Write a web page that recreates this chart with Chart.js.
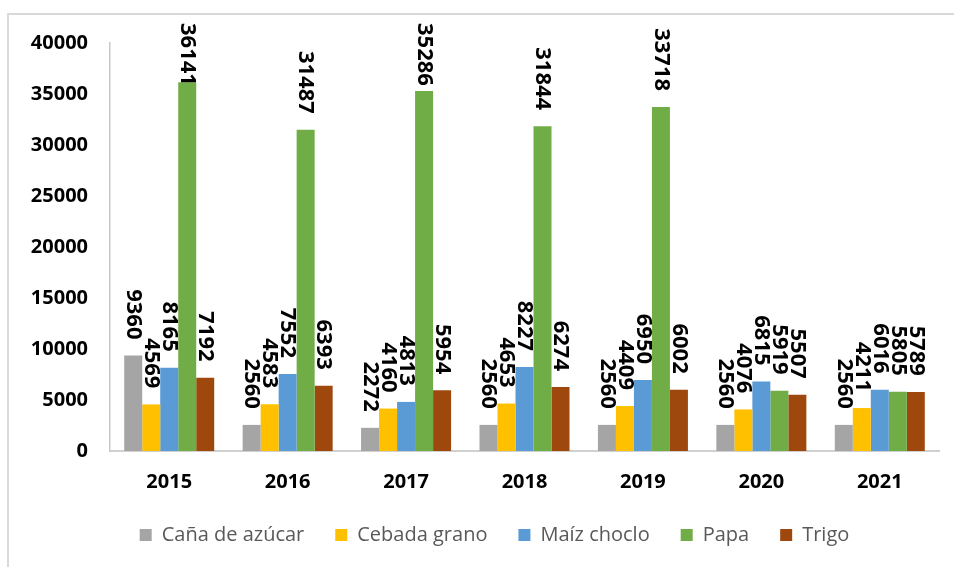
<!DOCTYPE html>
<html>
<head>
<meta charset="utf-8">
<script src="https://cdn.jsdelivr.net/npm/chart.js@4.4.1/dist/chart.umd.min.js"></script>
<style>
  body { margin: 0; background: #fff; }
  #wrap { position: relative; width: 954px; height: 567px; }
  #frame { position: absolute; left: 7px; top: 13px; right: -10px; bottom: -10px;
           border-left: 2px solid #d9d9d9; border-top: 2px solid #d9d9d9; }
  canvas { position: absolute; left: 0; top: 0; }
</style>
</head>
<body>
<div id="wrap">
  <div id="frame"></div>
  <canvas id="myChart" width="954" height="567"></canvas>
</div>
<script>
  // chart data
  var years = ['2015', '2016', '2017', '2018', '2019', '2020', '2021'];
  var cana = [9360, 2560, 2272, 2560, 2560, 2560, 2560];
  var cebada = [4569, 4583, 4160, 4653, 4409, 4076, 4211];
  var maiz = [8165, 7552, 4813, 8227, 6950, 6815, 6016];
  var papa = [36141, 31487, 35286, 31844, 33718, 5919, 5805];
  var trigo = [7192, 6393, 5954, 6274, 6002, 5507, 5789];

  // draws the rotated value labels above each bar
  var valueLabels = {
    id: 'valueLabels',
    afterLayout: function (chart) {
      // nudge legend so it centres under the plot like the original
      if (chart.legend) chart.legend.left = 50;
    },
    afterDatasetsDraw: function (chart) {
      var ctx = chart.ctx;
      ctx.save();
      ctx.font = 'bold 22px "Open Sans"';
      ctx.fillStyle = '#000';
      ctx.textAlign = 'right';
      ctx.textBaseline = 'middle';
      chart.data.datasets.forEach(function (ds, i) {
        var meta = chart.getDatasetMeta(i);
        meta.data.forEach(function (bar, j) {
          var txt = String(ds.data[j]);
          var w = ctx.measureText(txt).width;
          var end = Math.max(bar.y - 16, chart.chartArea.top - 20 + w);
          ctx.save();
          ctx.translate(bar.x, end);
          ctx.rotate(Math.PI / 2);
          ctx.fillText(txt, 0, 0);
          ctx.restore();
        });
      });
      ctx.restore();
    }
  };

  var ctx = document.getElementById('myChart').getContext('2d');
  var myChart = new Chart(ctx, {
    type: 'bar',
    data: {
      labels: years,
      datasets: [
        { label: 'Caña de azúcar', data: cana, backgroundColor: '#a5a5a5' },
        { label: 'Cebada grano', data: cebada, backgroundColor: '#ffc000' },
        { label: 'Maíz choclo', data: maiz, backgroundColor: '#5b9bd5' },
        { label: 'Papa', data: papa, backgroundColor: '#70ad47' },
        { label: 'Trigo', data: trigo, backgroundColor: '#9e480e' }
      ]
    },
    options: {
      responsive: false,
      animation: false,
      datasets: { bar: { categoryPercentage: 0.76, barPercentage: 1.0 } },
      layout: { padding: { top: 43, left: 10, right: 15, bottom: 12 } },
      scales: {
        x: {
          grid: { display: false, drawTicks: false },
          border: { display: true, color: '#d0d0d0', width: 2 },
          ticks: { color: '#000', font: { family: 'Open Sans', size: 20, weight: 'bold' }, padding: 19 },
          afterFit: function (scale) { scale.height = 43; }
        },
        y: {
          min: 0,
          max: 40000,
          grid: { display: false, drawTicks: false },
          border: { display: true, color: '#c8c8c8', width: 1.5 },
          ticks: {
            stepSize: 5000,
            color: '#000',
            font: { family: 'Open Sans', size: 20, weight: 'bold' },
            padding: 22,
            callback: function (v) { return String(v); }
          },
          afterFit: function (scale) { scale.width = 100; }
        }
      },
      plugins: {
        tooltip: { enabled: false },
        legend: {
          position: 'bottom',
          labels: {
            boxWidth: 12,
            boxHeight: 12,
            padding: 31,
            color: '#595959',
            font: { family: 'Open Sans', size: 20 }
          }
        }
      }
    },
    plugins: [valueLabels]
  });
</script>
</body>
</html>
